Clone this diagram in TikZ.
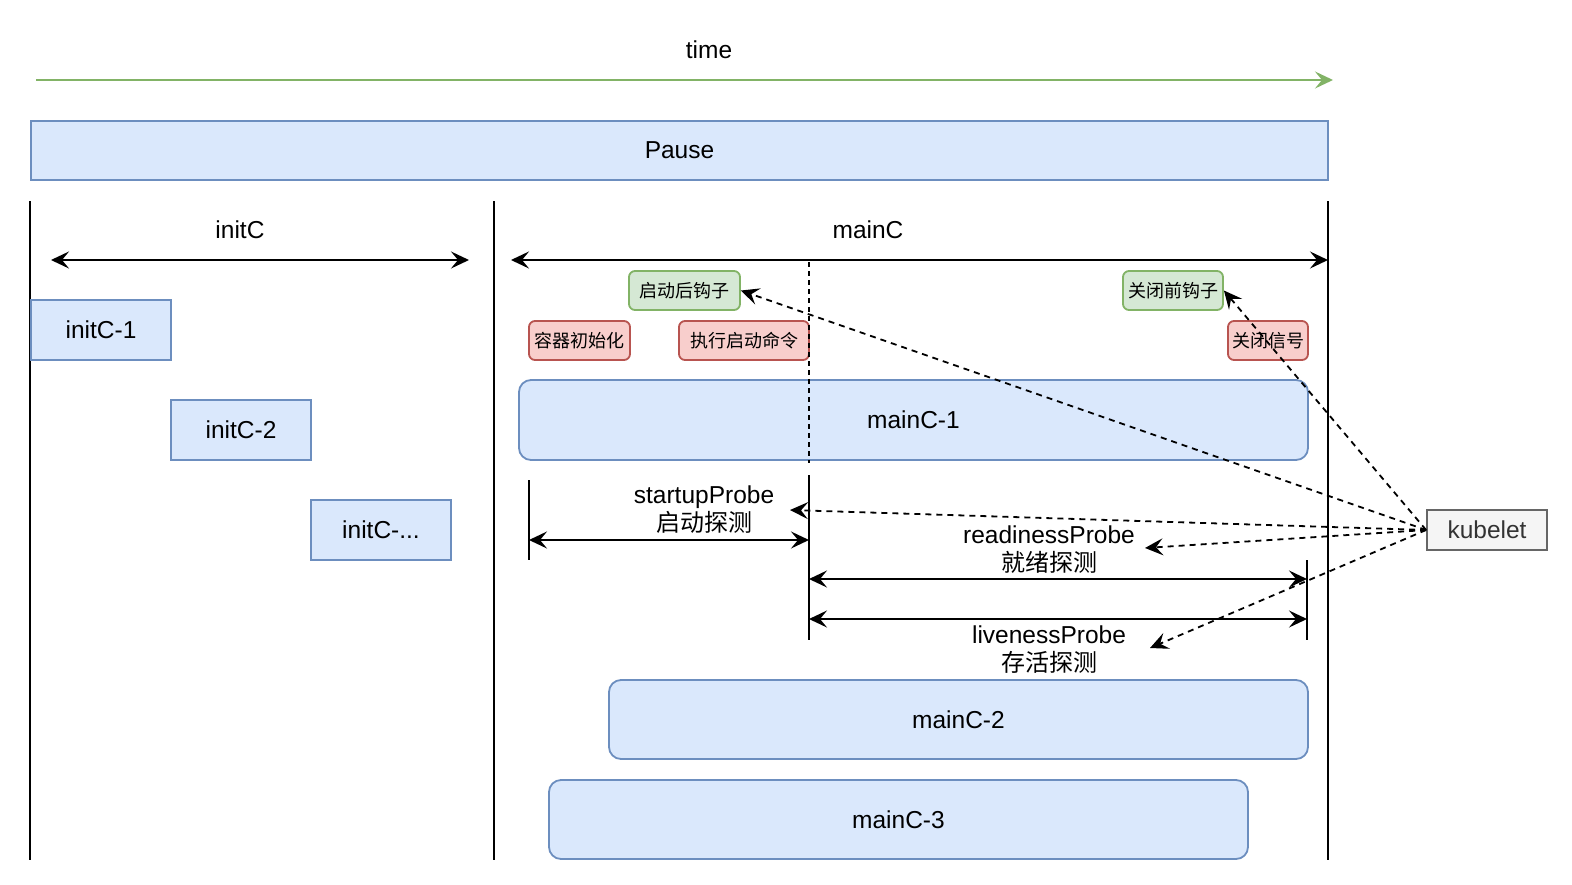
\documentclass[tikz,border=0pt]{standalone}
\usepackage{fontspec}
\setmainfont{Liberation Sans}
\newfontfamily\cjk{Noto Sans CJK SC}
\usetikzlibrary{arrows.meta}

\definecolor{blueFill}{HTML}{DAE8FC}
\definecolor{blueLine}{HTML}{6C8EBF}
\definecolor{greenFill}{HTML}{D5E8D4}
\definecolor{greenLine}{HTML}{82B366}
\definecolor{redFill}{HTML}{F8CECC}
\definecolor{redLine}{HTML}{B85450}
\definecolor{greyFill}{HTML}{F5F5F5}
\definecolor{greyLine}{HTML}{666666}
\definecolor{greyText}{HTML}{333333}

\begin{document}
\begin{tikzpicture}[
  x=1pt, y=-1pt,
  font=\fontsize{24.5}{28}\selectfont,
  >={Stealth[length=18pt,width=17pt,inset=7pt]},
  box/.style={draw=blueLine, fill=blueFill, line width=1.8pt, inner sep=0pt},
  cbox/.style={box, rounded corners=12pt},
  hook/.style={draw=greenLine, fill=greenFill, line width=1.8pt, rounded corners=6pt,
    inner sep=0pt, minimum height=39pt, font=\cjk\fontsize{18}{20}\selectfont},
  sig/.style={hook, draw=redLine, fill=redFill},
  bar/.style={line width=1.8pt},
  span/.style={line width=1.8pt, <->},
  call/.style={line width=1.8pt, dash pattern=on 6pt off 5pt, ->},
  lbl/.style={align=center, inner sep=0pt}
]
  \useasboundingbox (0,0) rectangle (1572,884);

  % time axis and pause container
  \node[lbl] (time) at (709,50) {time};
  \coordinate (t0) at (36,80);
  \coordinate (t1) at (1333,80);
  \draw[line width=1.8pt, draw=greenLine, -{Stealth[length=18pt,width=17pt,inset=7pt,fill=greenLine]}] (t0) -- (t1);
  \node[box, minimum width=1297pt, minimum height=59pt] (pause) at (679.5,150.5) {Pause};

  % phase borders
  \foreach \x in {30,494,1328}
    \draw[bar] (\x,201) -- (\x,860);

  % init containers
  \node[lbl] (initLbl) at (240,230) {initC};
  \coordinate (i0) at (51,260);
  \coordinate (i1) at (469,260);
  \draw[span] (i0) -- (i1);
  \node[box, minimum width=140pt, minimum height=60pt] (init1) at (101,330) {initC-1};
  \node[box, minimum width=140pt, minimum height=60pt] (init2) at (241,430) {initC-2};
  \node[box, minimum width=140pt, minimum height=60pt] (init3) at (381,530) {initC-...};

  % main containers
  \node[lbl] (mainLbl) at (868,230) {mainC};
  \coordinate (m0) at (511,260);
  \coordinate (m1) at (1328,260);
  \draw[span] (m0) -- (m1);

  \node[hook, minimum width=111pt] (hookStart) at (684.5,290.5) {启动后钩子};
  \node[hook, minimum width=100pt] (hookStop) at (1173,290.5) {关闭前钩子};
  \node[sig, minimum width=101pt] (sigInit) at (579.5,340.5) {容器初始化};
  \node[sig, minimum width=130pt] (sigCmd) at (744,340.5) {执行启动命令};
  \node[sig, minimum width=80pt] (sigStop) at (1268,340.5) {关闭信号};

  \node[cbox, minimum width=789pt, minimum height=80pt] (main1) at (913.5,420) {mainC-1};
  \node[cbox, minimum width=699pt, minimum height=79pt] (main2) at (958.5,719.5) {mainC-2};
  \node[cbox, minimum width=699pt, minimum height=79pt] (main3) at (898.5,819.5) {mainC-3};

  \draw[line width=1.8pt, dash pattern=on 5pt off 4pt] (809,262) -- (809,463);

  % probes
  \draw[bar] (529,480) -- (529,560);
  \draw[bar] (809,475) -- (809,640);
  \draw[bar] (1307,560) -- (1307,640);

  \node[lbl] (startLbl) at (704,510) {startupProbe\\{\cjk\fontsize{24}{28}\selectfont 启动探测}};
  \coordinate (s0) at (529,540);
  \coordinate (s1) at (809,540);
  \draw[span] (s0) -- (s1);

  \node[lbl] (readyLbl) at (1049,550) {readinessProbe\\{\cjk\fontsize{24}{28}\selectfont 就绪探测}};
  \coordinate (r0) at (809,579);
  \coordinate (r1) at (1307,579);
  \draw[span] (r0) -- (r1);

  \node[lbl] (liveLbl) at (1049,650) {livenessProbe\\{\cjk\fontsize{24}{28}\selectfont 存活探测}};
  \coordinate (l0) at (809,619);
  \coordinate (l1) at (1307,619);
  \draw[span] (l0) -- (l1);

  % kubelet calls
  \node[draw=greyLine, fill=greyFill, text=greyText, line width=1.8pt, inner sep=0pt,
    minimum width=120pt, minimum height=40pt] (kubelet) at (1487,530) {kubelet};

  \coordinate (startTip) at (790,510);
  \coordinate (readyTip) at (1145,548);
  \coordinate (liveTip) at (1150,648);

  \draw[call] (kubelet.west) -- (hookStart.east);
  \draw[call] (kubelet.west) -- (hookStop.east);
  \draw[call] (kubelet.west) -- (startTip);
  \draw[call] (kubelet.west) -- (readyTip);
  \draw[call] (kubelet.west) -- (liveTip);
\end{tikzpicture}
\end{document}
